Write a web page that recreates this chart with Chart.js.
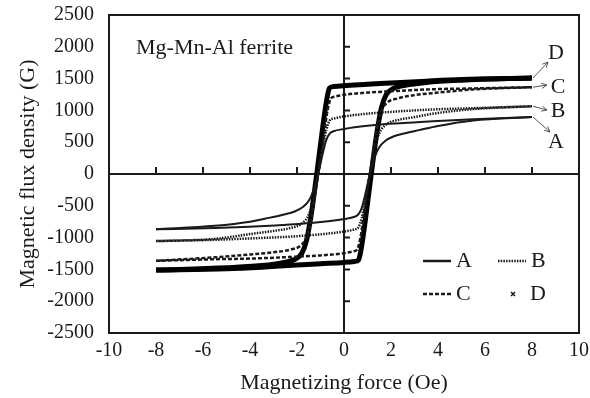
<!DOCTYPE html>
<html>
<head>
<meta charset="utf-8">
<script src="https://cdn.jsdelivr.net/npm/chart.js@4.4.1/dist/chart.umd.min.js"></script>
<style>
  html, body { margin: 0; padding: 0; background: #fff; }
  #wrap { width: 590px; height: 398px; }
</style>
</head>
<body>
<div id="wrap"><canvas id="chart" width="590" height="398"></canvas></div>
<script>
// Hysteresis loops: [H (Oe), B (G)]
// descending branch (+8 -> -8) and ascending branch (-8 -> +8) for each sample
const downA = [
  [8, 895], [5.5, 862], [4, 835], [2.2, 795], [1, 758], [0, 708], [-0.45, 672], [-0.6, 640],
  [-0.75, 540], [-0.9, 330], [-1.1, 0], [-1.3, -260], [-1.5, -420], [-1.75, -520], [-2.1, -590],
  [-2.6, -640], [-3.2, -690], [-4, -750], [-5.5, -815], [-8, -870]
];
const upA = [
  [-8, -870], [-5.5, -850], [-4, -828], [-2.3, -795], [-1, -755], [0, -708], [0.45, -672], [0.6, -640],
  [0.75, -540], [0.9, -330], [1.1, 0], [1.3, 260], [1.5, 420], [1.75, 520], [2.1, 590],
  [2.6, 640], [3.2, 690], [4, 755], [5.5, 842], [8, 895]
];
const downB = [
  [8, 1065], [5.5, 1035], [4, 1018], [2.2, 982], [1, 948], [0, 905], [-0.45, 870], [-0.6, 845],
  [-0.75, 700], [-0.9, 420], [-1.1, 0], [-1.3, -400], [-1.5, -640], [-1.8, -780], [-2.3, -850],
  [-3, -895], [-4, -945], [-5.5, -1020], [-8, -1055]
];
const upB = [
  [-8, -1055], [-5.5, -1035], [-4, -1013], [-2.3, -985], [-1, -948], [0, -905], [0.45, -870], [0.6, -845],
  [0.75, -700], [0.9, -420], [1.1, 0], [1.3, 400], [1.5, 640], [1.8, 780], [2.3, 850],
  [3, 895], [4, 960], [5.5, 1020], [8, 1065]
];
const downC = [
  [8, 1365], [5.5, 1345], [4, 1335], [2.2, 1305], [1, 1280], [0, 1245], [-0.4, 1215], [-0.55, 1190],
  [-0.7, 1000], [-0.85, 620], [-1.1, 0], [-1.35, -600], [-1.55, -950], [-1.8, -1110], [-2.3, -1190],
  [-3, -1230], [-4, -1265], [-5.5, -1310], [-8, -1365]
];
const upC = [
  [-8, -1365], [-5.5, -1340], [-4, -1330], [-2.3, -1305], [-1, -1280], [0, -1245], [0.4, -1215], [0.55, -1190],
  [0.7, -1000], [0.85, -620], [1.1, 0], [1.35, 600], [1.55, 950], [1.8, 1110], [2.3, 1190],
  [3, 1240], [4, 1280], [5.5, 1330], [8, 1365]
];
const downD = [
  [8, 1510], [5, 1485], [3.5, 1460], [2.2, 1435], [1, 1410], [0, 1390], [-0.45, 1375], [-0.62, 1350],
  [-0.72, 1200], [-0.9, 750], [-1.16, 0], [-1.4, -650], [-1.6, -1050], [-1.8, -1250], [-2.1, -1345],
  [-2.6, -1395], [-3.5, -1440], [-5, -1475], [-8, -1510]
];
const upD = [
  [-8, -1510], [-5, -1490], [-3.5, -1465], [-2.2, -1435], [-1, -1410], [0, -1390], [0.45, -1375], [0.62, -1350],
  [0.72, -1200], [0.9, -750], [1.16, 0], [1.4, 650], [1.6, 1050], [1.8, 1250], [2.1, 1345],
  [2.6, 1395], [3.5, 1440], [5, 1475], [8, 1510]
];

const seriesNames = ['A', 'B', 'C', 'D'];
const xTicks = [-10, -8, -6, -4, -2, 0, 2, 4, 6, 8, 10];
const yTicks = [-2500, -2000, -1500, -1000, -500, 0, 500, 1000, 1500, 2000, 2500];

const FONT = '"Liberation Serif", "Times New Roman", serif';
const INK = '#1a1a1a';

function toPoints(branch) {
  return branch.map(p => ({ x: p[0], y: p[1] }));
}

// frame, centre cross, tick marks, labels, arrows and legend
const decorPlugin = {
  id: 'decor',
  beforeDatasetsDraw(chart) {
    const { ctx, chartArea: a, scales: { x, y } } = chart;
    const x0 = x.getPixelForValue(0);
    const y0 = y.getPixelForValue(0);
    ctx.save();
    ctx.strokeStyle = INK;
    ctx.lineWidth = 2;
    ctx.strokeRect(a.left, a.top, a.right - a.left, a.bottom - a.top);
    ctx.beginPath();
    ctx.moveTo(a.left, y0); ctx.lineTo(a.right, y0);
    ctx.moveTo(x0, a.top); ctx.lineTo(x0, a.bottom);
    xTicks.forEach(v => {
      const px = x.getPixelForValue(v);
      ctx.moveTo(px, y0); ctx.lineTo(px, y0 - 7);
    });
    yTicks.forEach(v => {
      const py = y.getPixelForValue(v);
      ctx.moveTo(x0, py); ctx.lineTo(x0 + 6, py);
    });
    ctx.stroke();
    ctx.restore();
  },
  afterDatasetsDraw(chart) {
    const { ctx, scales: { x, y } } = chart;
    ctx.save();
    ctx.fillStyle = INK;
    ctx.font = '22px ' + FONT;
    ctx.textBaseline = 'middle';
    ctx.textAlign = 'left';
    ctx.fillText('Mg-Mn-Al ferrite', 136, 48);

    // series labels with arrows at the right end of the loops
    const ends = [downA[0], downB[0], downC[0], downD[0]];
    const labelPos = [[556, 142], [558, 111], [558, 87], [556, 53]];
    const tips = [[550, 132], [547, 110], [547, 85], [548, 62]];
    ctx.strokeStyle = '#555';
    ctx.lineWidth = 1;
    ends.forEach((e, i) => {
      const sx = x.getPixelForValue(e[0]) + 1;
      const sy = y.getPixelForValue(e[1]);
      const [tx, ty] = tips[i];
      ctx.beginPath();
      ctx.moveTo(sx, sy); ctx.lineTo(tx, ty);
      const ang = Math.atan2(ty - sy, tx - sx);
      ctx.moveTo(tx - 6 * Math.cos(ang - 0.45), ty - 6 * Math.sin(ang - 0.45));
      ctx.lineTo(tx, ty);
      ctx.lineTo(tx - 6 * Math.cos(ang + 0.45), ty - 6 * Math.sin(ang + 0.45));
      ctx.stroke();
      ctx.textAlign = 'center';
      ctx.fillText(seriesNames[i], labelPos[i][0], labelPos[i][1]);
    });

    // legend, 2 x 2 inside the plot
    ctx.textAlign = 'left';
    const rows = [
      { name: 'A', x: 423, y: 261, dash: [], w: 2.5 },
      { name: 'B', x: 498, y: 261, dash: [1.5, 1.2], w: 2.5 },
      { name: 'C', x: 423, y: 294, dash: [4, 2], w: 2.5 }
    ];
    ctx.strokeStyle = INK;
    rows.forEach(r => {
      ctx.lineWidth = r.w;
      ctx.setLineDash(r.dash);
      ctx.beginPath();
      ctx.moveTo(r.x, r.y); ctx.lineTo(r.x + 28, r.y);
      ctx.stroke();
      ctx.fillText(r.name, r.x + 33, r.y);
    });
    ctx.setLineDash([]);
    ctx.lineWidth = 1.5;
    ctx.beginPath();
    ctx.moveTo(511, 292); ctx.lineTo(515, 296);
    ctx.moveTo(515, 292); ctx.lineTo(511, 296);
    ctx.stroke();
    ctx.fillText('D', 530, 294);
    ctx.restore();
  }
};

const common = {
  showLine: true, pointRadius: 0, fill: false, borderColor: INK,
  cubicInterpolationMode: 'monotone'
};
const styleA = { borderWidth: 2 };
const styleB = { borderWidth: 2.5, borderDash: [1.5, 1.2] };
const styleC = { borderWidth: 2.5, borderDash: [4, 2] };
const styleD = { borderWidth: 5, borderColor: '#000' };

new Chart(document.getElementById('chart'), {
  type: 'scatter',
  data: {
    datasets: [
      { ...common, ...styleA, label: 'A', data: toPoints(downA) },
      { ...common, ...styleA, label: 'A', data: toPoints(upA) },
      { ...common, ...styleB, label: 'B', data: toPoints(downB) },
      { ...common, ...styleB, label: 'B', data: toPoints(upB) },
      { ...common, ...styleC, label: 'C', data: toPoints(downC) },
      { ...common, ...styleC, label: 'C', data: toPoints(upC) },
      { ...common, ...styleD, label: 'D', data: toPoints(downD) },
      { ...common, ...styleD, label: 'D', data: toPoints(upD) }
    ]
  },
  options: {
    responsive: false,
    animation: false,
    layout: { padding: { top: 15, right: 11, left: 0, bottom: 0 } },
    plugins: { legend: { display: false }, tooltip: { enabled: false } },
    scales: {
      x: {
        type: 'linear', min: -10, max: 10,
        afterBuildTicks: s => { s.ticks = xTicks.map(v => ({ value: v })); },
        afterFit: s => { s.height = 65; s.paddingLeft = 0; s.paddingRight = 0; },
        grid: { display: false, drawTicks: false },
        border: { display: false },
        ticks: { color: INK, font: { family: FONT, size: 20 }, padding: 6, maxRotation: 0,
          callback: v => String(v) },
        title: { display: true, text: 'Magnetizing force (Oe)', color: INK,
          font: { family: FONT, size: 22 }, padding: { top: 0, bottom: 2 } }
      },
      y: {
        type: 'linear', min: -2500, max: 2500,
        afterBuildTicks: s => { s.ticks = yTicks.map(v => ({ value: v })); },
        afterFit: s => { s.width = 109; s.paddingTop = 0; s.paddingBottom = 0; },
        grid: { display: false, drawTicks: false },
        border: { display: false },
        ticks: { color: INK, font: { family: FONT, size: 20 }, padding: 15,
          callback: v => String(v) },
        title: { display: true, text: 'Magnetic flux density (G)', color: INK,
          font: { family: FONT, size: 22 }, padding: { top: 15, bottom: 0 } }
      }
    }
  },
  plugins: [decorPlugin]
});
</script>
</body>
</html>
